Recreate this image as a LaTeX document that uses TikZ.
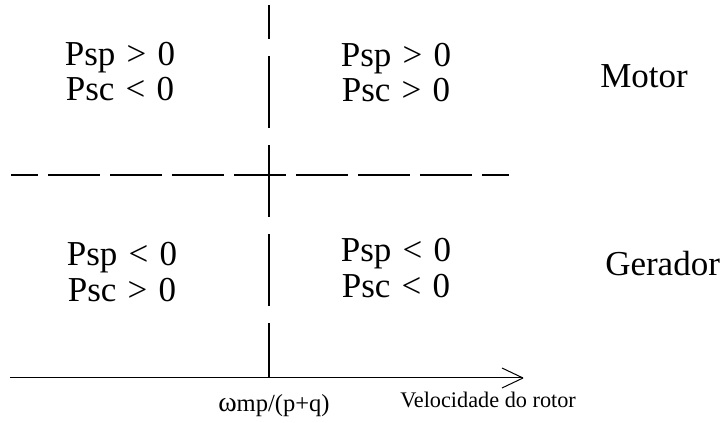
\documentclass[tikz,border=0pt]{standalone}
\usepackage{fontspec}
\setmainfont{Liberation Serif}
\newcommand\gp{\hspace{0.32em}}
\tikzset{
  big/.style={font=\fontsize{26.25pt}{30pt}\selectfont, anchor=base, inner sep=0pt},
  small/.style={font=\fontsize{18.4pt}{22pt}\selectfont, anchor=base west, inner sep=0pt},
  vel/.style={font=\fontsize{16.7pt}{20pt}\selectfont, anchor=base west, inner sep=0pt},
  vline/.style={line width=1pt, dash pattern=on 54pt off 12.75pt, dash phase=28.5pt},
  hline/.style={line width=1.5pt, dash pattern=on 39pt off 7.5pt, dash phase=18.75pt},
  axis/.style={line width=0.75pt}
}
\begin{document}
\begin{tikzpicture}[x=0.75pt,y=-0.75pt]
\useasboundingbox (0,0) rectangle (726,423);
% coordinates
\coordinate (vtop) at (269,5);
\coordinate (vbot) at (269,378);
\coordinate (hl) at (11,175);
\coordinate (hr) at (509,175);
\coordinate (ax0) at (10,378);
\coordinate (tip) at (523,378);
% lines
\draw[vline] (vtop) -- (vbot);
\draw[hline] (hl) -- (hr);
\draw[axis] (ax0) -- (tip);
\draw[axis] (tip) -- ++(-21,-10);
\draw[axis] (tip) -- ++(-21,10);
% texts
\node[big] (ul1) at (120,66) {Psp\gp>\gp0};
\node[big] (ul2) at (120,101) {Psc\gp<\gp0};
\node[big] (ur1) at (396,67) {Psp\gp>\gp0};
\node[big] (ur2) at (396,102) {Psc\gp>\gp0};
\node[big] (ll1) at (122,266) {Psp\gp<\gp0};
\node[big] (ll2) at (122,302) {Psc\gp>\gp0};
\node[big] (lr1) at (396,262) {Psp\gp<\gp0};
\node[big] (lr2) at (396,298) {Psc\gp<\gp0};
\node[big, anchor=base west] (motor) at (600,88) {Motor};
\node[big, anchor=base west] (gerador) at (605,276) {Gerador};
\node[small] (omega) at (218,412) {{\fontsize{21pt}{24pt}\selectfont ω}mp/(p+q)};
\node[vel] (velo) at (400,408) {Velocidade do rotor};
\end{tikzpicture}
\end{document}
